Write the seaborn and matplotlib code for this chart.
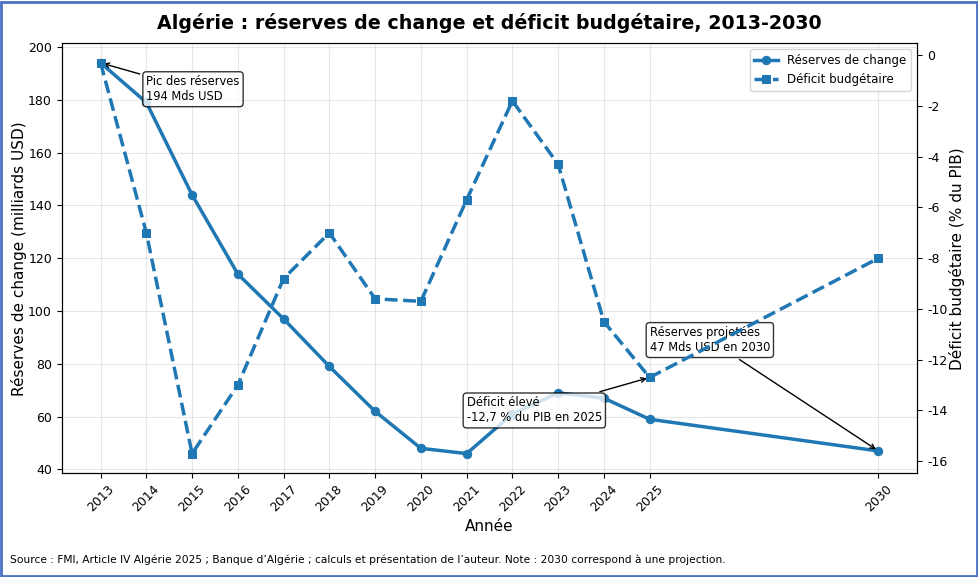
import seaborn as sns
import matplotlib
import matplotlib.pyplot as plt
import pandas as pd
import numpy as np
from matplotlib.patches import Rectangle

plt.rcParams.update({"font.size": 10, "axes.unicode_minus": False})

years = [2013, 2014, 2015, 2016, 2017, 2018, 2019, 2020, 2021, 2022, 2023, 2024, 2025, 2030]
reserves = [194, 179, 144, 114, 97, 79, 62, 48, 46, 61, 69, 67, 59, 47]
deficit = [-0.3, -7.0, -15.7, -13.0, -8.8, -7.0, -9.6, -9.7, -5.7, -1.8, -4.3, -10.5, -12.7, -8.0]

blue = "#1f77b4"

if __name__ == "__main__":
    df = pd.DataFrame({"annee": years, "reserves": reserves, "deficit": deficit})

    fig, ax1 = plt.subplots(figsize=(9.79, 5.77), dpi=100)
    ax2 = ax1.twinx()

    sns.lineplot(ax=ax1, data=df, x="annee", y="reserves", color=blue,
                 marker="o", markersize=6, mec=blue, linewidth=2.5,
                 label="Réserves de change", legend=False)
    sns.lineplot(ax=ax2, data=df, x="annee", y="deficit", color=blue,
                 marker="s", markersize=6, mec=blue, linewidth=2.5, linestyle="--",
                 label="Déficit budgétaire", legend=False)

    ax1.set_xticks(years)
    ax1.set_xticklabels([str(y) for y in years], rotation=45)
    ax1.tick_params(labelsize=9)
    ax2.tick_params(labelsize=9)
    ax1.grid(True, alpha=0.3)
    ax1.set_xlabel("Année", fontsize=11, labelpad=3)
    ax1.set_ylabel("Réserves de change (milliards USD)", fontsize=11, labelpad=1)
    ax2.set_ylabel("Déficit budgétaire (% du PIB)", fontsize=11, labelpad=1)

    box = dict(boxstyle="round,pad=0.3", fc="white", ec="black", alpha=0.8)
    arrow = dict(arrowstyle="->", color="black", lw=1)
    ax1.annotate("Pic des réserves\n194 Mds USD", xy=(2013, 194), xytext=(2014, 184),
                 va="center", fontsize=8.3, bbox=box, arrowprops=arrow)
    ax1.annotate("Réserves projetées\n47 Mds USD en 2030", xy=(2030, 47), xytext=(2025, 89),
                 va="center", fontsize=8.3, bbox=box, arrowprops=arrow)
    ax2.annotate("Déficit élevé\n-12,7 % du PIB en 2025", xy=(2025, -12.7), xytext=(2021, -14.0),
                 va="center", fontsize=8.3, bbox=box, arrowprops=arrow)

    h1, l1 = ax1.get_legend_handles_labels()
    h2, l2 = ax2.get_legend_handles_labels()
    ax2.legend(h1 + h2, l1 + l2, loc="upper right", fontsize=8.5)

    ax1.set_title("Algérie : réserves de change et déficit budgétaire, 2013-2030",
                  fontsize=13.7, fontweight="bold", pad=10)
    fig.text(0.01, 0.025, "Source : FMI, Article IV Algérie 2025 ; Banque d’Algérie ; calculs et "
             "présentation de l’auteur. Note : 2030 correspond à une projection.", fontsize=7.7)

    fig.subplots_adjust(left=0.063, right=0.937, top=0.925, bottom=0.18)
    fig.patches.append(Rectangle((0.001, 0.002), 0.997, 0.995, transform=fig.transFigure,
                                 fill=False, ec="#4a72c4", lw=2))

    fig.savefig("out.png")
